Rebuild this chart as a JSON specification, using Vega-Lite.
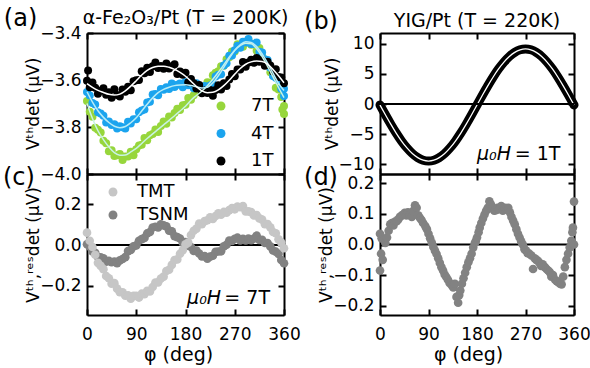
{
"$schema": "https://vega.github.io/schema/vega-lite/v6.json",
"background": "white",
"padding": {"left": 2, "top": 7, "right": 5, "bottom": 2},
"config": {
  "font": "DejaVu Sans",
  "view": {"stroke": null},
  "axis": {"domainColor": "black", "domainWidth": 2, "tickColor": "black", "tickWidth": 2, "tickSize": -6, "labelFontSize": 17, "labelColor": "black", "titleFontSize": 17, "titleColor": "black", "titleFontWeight": "normal", "grid": false, "labelFlush": false, "labelOverlap": false},
  "axisX": {"labelPadding": 17, "titlePadding": 3},
  "axisY": {"labelPadding": 12, "titlePadding": -3},
  "legend": {"labelFontSize": 18, "labelColor": "black", "symbolType": "circle", "symbolSize": 80, "symbolStrokeWidth": 0},
  "title": {"fontSize": 19, "fontWeight": "normal", "color": "black", "anchor": "middle", "offset": 7, "frame": "group"},
  "text": {"color": "black"}
},
"datasets": {
 "a": [
  {"phi":0,"V":-3.689,"B":"7T"},{"phi":5,"V":-3.735,"B":"7T"},{"phi":10,"V":-3.756,"B":"7T"},{"phi":15,"V":-3.803,"B":"7T"},{"phi":20,"V":-3.812,"B":"7T"},{"phi":25,"V":-3.823,"B":"7T"},{"phi":30,"V":-3.859,"B":"7T"},{"phi":35,"V":-3.869,"B":"7T"},{"phi":40,"V":-3.903,"B":"7T"},{"phi":45,"V":-3.899,"B":"7T"},{"phi":50,"V":-3.923,"B":"7T"},{"phi":55,"V":-3.920,"B":"7T"},{"phi":60,"V":-3.915,"B":"7T"},{"phi":65,"V":-3.940,"B":"7T"},{"phi":70,"V":-3.926,"B":"7T"},{"phi":75,"V":-3.925,"B":"7T"},{"phi":80,"V":-3.905,"B":"7T"},{"phi":85,"V":-3.920,"B":"7T"},{"phi":90,"V":-3.895,"B":"7T"},{"phi":95,"V":-3.879,"B":"7T"},{"phi":100,"V":-3.876,"B":"7T"},{"phi":105,"V":-3.847,"B":"7T"},{"phi":110,"V":-3.856,"B":"7T"},{"phi":115,"V":-3.835,"B":"7T"},{"phi":120,"V":-3.830,"B":"7T"},{"phi":125,"V":-3.811,"B":"7T"},{"phi":130,"V":-3.821,"B":"7T"},{"phi":135,"V":-3.796,"B":"7T"},{"phi":140,"V":-3.777,"B":"7T"},{"phi":145,"V":-3.786,"B":"7T"},{"phi":150,"V":-3.755,"B":"7T"},{"phi":155,"V":-3.760,"B":"7T"},{"phi":160,"V":-3.740,"B":"7T"},{"phi":165,"V":-3.722,"B":"7T"},{"phi":170,"V":-3.728,"B":"7T"},{"phi":175,"V":-3.707,"B":"7T"},{"phi":180,"V":-3.705,"B":"7T"},{"phi":185,"V":-3.677,"B":"7T"},{"phi":190,"V":-3.684,"B":"7T"},{"phi":195,"V":-3.665,"B":"7T"},{"phi":200,"V":-3.650,"B":"7T"},{"phi":205,"V":-3.651,"B":"7T"},{"phi":210,"V":-3.628,"B":"7T"},{"phi":215,"V":-3.628,"B":"7T"},{"phi":220,"V":-3.610,"B":"7T"},{"phi":225,"V":-3.612,"B":"7T"},{"phi":230,"V":-3.580,"B":"7T"},{"phi":235,"V":-3.569,"B":"7T"},{"phi":240,"V":-3.563,"B":"7T"},{"phi":245,"V":-3.541,"B":"7T"},{"phi":250,"V":-3.539,"B":"7T"},{"phi":255,"V":-3.512,"B":"7T"},{"phi":260,"V":-3.503,"B":"7T"},{"phi":265,"V":-3.479,"B":"7T"},{"phi":270,"V":-3.479,"B":"7T"},{"phi":275,"V":-3.448,"B":"7T"},{"phi":280,"V":-3.450,"B":"7T"},{"phi":285,"V":-3.459,"B":"7T"},{"phi":290,"V":-3.442,"B":"7T"},{"phi":295,"V":-3.430,"B":"7T"},{"phi":300,"V":-3.450,"B":"7T"},{"phi":305,"V":-3.448,"B":"7T"},{"phi":310,"V":-3.475,"B":"7T"},{"phi":315,"V":-3.464,"B":"7T"},{"phi":320,"V":-3.500,"B":"7T"},{"phi":325,"V":-3.527,"B":"7T"},{"phi":330,"V":-3.532,"B":"7T"},{"phi":335,"V":-3.567,"B":"7T"},{"phi":340,"V":-3.582,"B":"7T"},{"phi":345,"V":-3.633,"B":"7T"},{"phi":350,"V":-3.640,"B":"7T"},{"phi":355,"V":-3.672,"B":"7T"},{"phi":357,"V":-3.725,"B":"7T"},{"phi":360,"V":-3.711,"B":"7T"},{"phi":360,"V":-3.745,"B":"7T"},
  {"phi":0,"V":-3.651,"B":"4T"},{"phi":5,"V":-3.666,"B":"4T"},{"phi":10,"V":-3.698,"B":"4T"},{"phi":15,"V":-3.704,"B":"4T"},{"phi":20,"V":-3.737,"B":"4T"},{"phi":25,"V":-3.743,"B":"4T"},{"phi":30,"V":-3.752,"B":"4T"},{"phi":35,"V":-3.781,"B":"4T"},{"phi":40,"V":-3.777,"B":"4T"},{"phi":45,"V":-3.792,"B":"4T"},{"phi":50,"V":-3.788,"B":"4T"},{"phi":55,"V":-3.806,"B":"4T"},{"phi":60,"V":-3.797,"B":"4T"},{"phi":65,"V":-3.801,"B":"4T"},{"phi":70,"V":-3.806,"B":"4T"},{"phi":75,"V":-3.778,"B":"4T"},{"phi":80,"V":-3.785,"B":"4T"},{"phi":85,"V":-3.767,"B":"4T"},{"phi":90,"V":-3.767,"B":"4T"},{"phi":95,"V":-3.737,"B":"4T"},{"phi":100,"V":-3.730,"B":"4T"},{"phi":105,"V":-3.725,"B":"4T"},{"phi":110,"V":-3.696,"B":"4T"},{"phi":115,"V":-3.693,"B":"4T"},{"phi":120,"V":-3.662,"B":"4T"},{"phi":125,"V":-3.660,"B":"4T"},{"phi":130,"V":-3.665,"B":"4T"},{"phi":135,"V":-3.638,"B":"4T"},{"phi":140,"V":-3.641,"B":"4T"},{"phi":145,"V":-3.631,"B":"4T"},{"phi":150,"V":-3.638,"B":"4T"},{"phi":155,"V":-3.615,"B":"4T"},{"phi":160,"V":-3.630,"B":"4T"},{"phi":165,"V":-3.620,"B":"4T"},{"phi":170,"V":-3.615,"B":"4T"},{"phi":175,"V":-3.631,"B":"4T"},{"phi":180,"V":-3.609,"B":"4T"},{"phi":185,"V":-3.622,"B":"4T"},{"phi":190,"V":-3.620,"B":"4T"},{"phi":195,"V":-3.635,"B":"4T"},{"phi":200,"V":-3.614,"B":"4T"},{"phi":205,"V":-3.626,"B":"4T"},{"phi":210,"V":-3.638,"B":"4T"},{"phi":215,"V":-3.625,"B":"4T"},{"phi":220,"V":-3.639,"B":"4T"},{"phi":225,"V":-3.623,"B":"4T"},{"phi":230,"V":-3.617,"B":"4T"},{"phi":235,"V":-3.585,"B":"4T"},{"phi":240,"V":-3.578,"B":"4T"},{"phi":245,"V":-3.575,"B":"4T"},{"phi":250,"V":-3.538,"B":"4T"},{"phi":255,"V":-3.529,"B":"4T"},{"phi":260,"V":-3.497,"B":"4T"},{"phi":265,"V":-3.496,"B":"4T"},{"phi":270,"V":-3.473,"B":"4T"},{"phi":275,"V":-3.454,"B":"4T"},{"phi":280,"V":-3.463,"B":"4T"},{"phi":285,"V":-3.437,"B":"4T"},{"phi":290,"V":-3.440,"B":"4T"},{"phi":295,"V":-3.426,"B":"4T"},{"phi":300,"V":-3.447,"B":"4T"},{"phi":305,"V":-3.447,"B":"4T"},{"phi":310,"V":-3.440,"B":"4T"},{"phi":315,"V":-3.480,"B":"4T"},{"phi":320,"V":-3.483,"B":"4T"},{"phi":325,"V":-3.512,"B":"4T"},{"phi":330,"V":-3.515,"B":"4T"},{"phi":335,"V":-3.548,"B":"4T"},{"phi":340,"V":-3.583,"B":"4T"},{"phi":345,"V":-3.590,"B":"4T"},{"phi":350,"V":-3.600,"B":"4T"},{"phi":355,"V":-3.637,"B":"4T"},{"phi":360,"V":-3.637,"B":"4T"},{"phi":360,"V":-3.668,"B":"4T"},
  {"phi":0,"V":-3.603,"B":"1T"},{"phi":2,"V":-3.560,"B":"1T"},{"phi":5,"V":-3.631,"B":"1T"},{"phi":10,"V":-3.611,"B":"1T"},{"phi":15,"V":-3.633,"B":"1T"},{"phi":20,"V":-3.659,"B":"1T"},{"phi":25,"V":-3.646,"B":"1T"},{"phi":30,"V":-3.635,"B":"1T"},{"phi":35,"V":-3.663,"B":"1T"},{"phi":40,"V":-3.652,"B":"1T"},{"phi":45,"V":-3.675,"B":"1T"},{"phi":50,"V":-3.639,"B":"1T"},{"phi":55,"V":-3.664,"B":"1T"},{"phi":60,"V":-3.670,"B":"1T"},{"phi":65,"V":-3.640,"B":"1T"},{"phi":70,"V":-3.650,"B":"1T"},{"phi":75,"V":-3.629,"B":"1T"},{"phi":80,"V":-3.644,"B":"1T"},{"phi":85,"V":-3.605,"B":"1T"},{"phi":90,"V":-3.601,"B":"1T"},{"phi":95,"V":-3.600,"B":"1T"},{"phi":100,"V":-3.563,"B":"1T"},{"phi":105,"V":-3.571,"B":"1T"},{"phi":110,"V":-3.548,"B":"1T"},{"phi":115,"V":-3.566,"B":"1T"},{"phi":120,"V":-3.541,"B":"1T"},{"phi":125,"V":-3.525,"B":"1T"},{"phi":130,"V":-3.549,"B":"1T"},{"phi":135,"V":-3.540,"B":"1T"},{"phi":140,"V":-3.552,"B":"1T"},{"phi":145,"V":-3.530,"B":"1T"},{"phi":150,"V":-3.551,"B":"1T"},{"phi":155,"V":-3.542,"B":"1T"},{"phi":160,"V":-3.533,"B":"1T"},{"phi":165,"V":-3.574,"B":"1T"},{"phi":170,"V":-3.564,"B":"1T"},{"phi":175,"V":-3.578,"B":"1T"},{"phi":180,"V":-3.569,"B":"1T"},{"phi":185,"V":-3.610,"B":"1T"},{"phi":190,"V":-3.596,"B":"1T"},{"phi":195,"V":-3.614,"B":"1T"},{"phi":200,"V":-3.636,"B":"1T"},{"phi":205,"V":-3.621,"B":"1T"},{"phi":210,"V":-3.656,"B":"1T"},{"phi":215,"V":-3.645,"B":"1T"},{"phi":220,"V":-3.655,"B":"1T"},{"phi":225,"V":-3.643,"B":"1T"},{"phi":230,"V":-3.667,"B":"1T"},{"phi":235,"V":-3.643,"B":"1T"},{"phi":240,"V":-3.622,"B":"1T"},{"phi":245,"V":-3.640,"B":"1T"},{"phi":250,"V":-3.614,"B":"1T"},{"phi":255,"V":-3.625,"B":"1T"},{"phi":260,"V":-3.598,"B":"1T"},{"phi":265,"V":-3.574,"B":"1T"},{"phi":270,"V":-3.584,"B":"1T"},{"phi":275,"V":-3.555,"B":"1T"},{"phi":280,"V":-3.555,"B":"1T"},{"phi":285,"V":-3.523,"B":"1T"},{"phi":290,"V":-3.544,"B":"1T"},{"phi":295,"V":-3.525,"B":"1T"},{"phi":300,"V":-3.514,"B":"1T"},{"phi":305,"V":-3.527,"B":"1T"},{"phi":310,"V":-3.506,"B":"1T"},{"phi":315,"V":-3.522,"B":"1T"},{"phi":320,"V":-3.515,"B":"1T"},{"phi":325,"V":-3.539,"B":"1T"},{"phi":330,"V":-3.522,"B":"1T"},{"phi":335,"V":-3.538,"B":"1T"},{"phi":340,"V":-3.564,"B":"1T"},{"phi":345,"V":-3.554,"B":"1T"},{"phi":350,"V":-3.587,"B":"1T"},{"phi":355,"V":-3.589,"B":"1T"},{"phi":360,"V":-3.614,"B":"1T"}
 ],
 "afit": [
  {"phi":0,"V":-3.700,"B":"7T"},{"phi":10,"V":-3.764,"B":"7T"},{"phi":20,"V":-3.816,"B":"7T"},{"phi":30,"V":-3.854,"B":"7T"},{"phi":40,"V":-3.885,"B":"7T"},{"phi":50,"V":-3.909,"B":"7T"},{"phi":60,"V":-3.920,"B":"7T"},{"phi":70,"V":-3.919,"B":"7T"},{"phi":80,"V":-3.906,"B":"7T"},{"phi":90,"V":-3.891,"B":"7T"},{"phi":100,"V":-3.870,"B":"7T"},{"phi":110,"V":-3.849,"B":"7T"},{"phi":120,"V":-3.829,"B":"7T"},{"phi":130,"V":-3.810,"B":"7T"},{"phi":140,"V":-3.791,"B":"7T"},{"phi":150,"V":-3.772,"B":"7T"},{"phi":160,"V":-3.752,"B":"7T"},{"phi":170,"V":-3.732,"B":"7T"},{"phi":180,"V":-3.712,"B":"7T"},{"phi":190,"V":-3.686,"B":"7T"},{"phi":200,"V":-3.666,"B":"7T"},{"phi":210,"V":-3.647,"B":"7T"},{"phi":220,"V":-3.624,"B":"7T"},{"phi":230,"V":-3.597,"B":"7T"},{"phi":240,"V":-3.567,"B":"7T"},{"phi":250,"V":-3.535,"B":"7T"},{"phi":260,"V":-3.502,"B":"7T"},{"phi":270,"V":-3.473,"B":"7T"},{"phi":280,"V":-3.454,"B":"7T"},{"phi":290,"V":-3.444,"B":"7T"},{"phi":300,"V":-3.446,"B":"7T"},{"phi":310,"V":-3.467,"B":"7T"},{"phi":320,"V":-3.500,"B":"7T"},{"phi":330,"V":-3.542,"B":"7T"},{"phi":340,"V":-3.587,"B":"7T"},{"phi":350,"V":-3.632,"B":"7T"},{"phi":360,"V":-3.675,"B":"7T"},
  {"phi":0,"V":-3.650,"B":"4T"},{"phi":10,"V":-3.694,"B":"4T"},{"phi":20,"V":-3.731,"B":"4T"},{"phi":30,"V":-3.759,"B":"4T"},{"phi":40,"V":-3.781,"B":"4T"},{"phi":50,"V":-3.797,"B":"4T"},{"phi":60,"V":-3.803,"B":"4T"},{"phi":70,"V":-3.798,"B":"4T"},{"phi":80,"V":-3.782,"B":"4T"},{"phi":90,"V":-3.761,"B":"4T"},{"phi":100,"V":-3.732,"B":"4T"},{"phi":110,"V":-3.703,"B":"4T"},{"phi":120,"V":-3.676,"B":"4T"},{"phi":130,"V":-3.654,"B":"4T"},{"phi":140,"V":-3.640,"B":"4T"},{"phi":150,"V":-3.631,"B":"4T"},{"phi":160,"V":-3.624,"B":"4T"},{"phi":170,"V":-3.621,"B":"4T"},{"phi":180,"V":-3.620,"B":"4T"},{"phi":190,"V":-3.623,"B":"4T"},{"phi":200,"V":-3.629,"B":"4T"},{"phi":210,"V":-3.634,"B":"4T"},{"phi":220,"V":-3.631,"B":"4T"},{"phi":230,"V":-3.612,"B":"4T"},{"phi":240,"V":-3.582,"B":"4T"},{"phi":250,"V":-3.546,"B":"4T"},{"phi":260,"V":-3.508,"B":"4T"},{"phi":270,"V":-3.474,"B":"4T"},{"phi":280,"V":-3.450,"B":"4T"},{"phi":290,"V":-3.437,"B":"4T"},{"phi":300,"V":-3.440,"B":"4T"},{"phi":310,"V":-3.458,"B":"4T"},{"phi":320,"V":-3.489,"B":"4T"},{"phi":330,"V":-3.528,"B":"4T"},{"phi":340,"V":-3.572,"B":"4T"},{"phi":350,"V":-3.614,"B":"4T"},{"phi":360,"V":-3.645,"B":"4T"},
  {"phi":0,"V":-3.615,"B":"1T"},{"phi":10,"V":-3.631,"B":"1T"},{"phi":20,"V":-3.644,"B":"1T"},{"phi":30,"V":-3.653,"B":"1T"},{"phi":40,"V":-3.661,"B":"1T"},{"phi":50,"V":-3.664,"B":"1T"},{"phi":60,"V":-3.660,"B":"1T"},{"phi":70,"V":-3.646,"B":"1T"},{"phi":80,"V":-3.626,"B":"1T"},{"phi":90,"V":-3.603,"B":"1T"},{"phi":100,"V":-3.579,"B":"1T"},{"phi":110,"V":-3.559,"B":"1T"},{"phi":120,"V":-3.547,"B":"1T"},{"phi":130,"V":-3.542,"B":"1T"},{"phi":140,"V":-3.541,"B":"1T"},{"phi":150,"V":-3.546,"B":"1T"},{"phi":160,"V":-3.555,"B":"1T"},{"phi":170,"V":-3.568,"B":"1T"},{"phi":180,"V":-3.584,"B":"1T"},{"phi":190,"V":-3.605,"B":"1T"},{"phi":200,"V":-3.628,"B":"1T"},{"phi":210,"V":-3.646,"B":"1T"},{"phi":220,"V":-3.654,"B":"1T"},{"phi":230,"V":-3.652,"B":"1T"},{"phi":240,"V":-3.642,"B":"1T"},{"phi":250,"V":-3.624,"B":"1T"},{"phi":260,"V":-3.601,"B":"1T"},{"phi":270,"V":-3.575,"B":"1T"},{"phi":280,"V":-3.551,"B":"1T"},{"phi":290,"V":-3.533,"B":"1T"},{"phi":300,"V":-3.523,"B":"1T"},{"phi":310,"V":-3.519,"B":"1T"},{"phi":320,"V":-3.521,"B":"1T"},{"phi":330,"V":-3.532,"B":"1T"},{"phi":340,"V":-3.555,"B":"1T"},{"phi":350,"V":-3.582,"B":"1T"},{"phi":360,"V":-3.612,"B":"1T"}
 ],
 "b": [
  {"phi":0,"V":-0.15},{"phi":10,"V":-1.77},{"phi":20,"V":-3.33},{"phi":30,"V":-4.80},{"phi":40,"V":-6.13},{"phi":50,"V":-7.27},{"phi":60,"V":-8.20},{"phi":70,"V":-8.89},{"phi":80,"V":-9.31},{"phi":90,"V":-9.45},{"phi":100,"V":-9.31},{"phi":110,"V":-8.89},{"phi":120,"V":-8.20},{"phi":130,"V":-7.27},{"phi":140,"V":-6.13},{"phi":150,"V":-4.80},{"phi":160,"V":-3.33},{"phi":170,"V":-1.77},{"phi":180,"V":-0.15},{"phi":190,"V":1.47},{"phi":200,"V":3.03},{"phi":210,"V":4.50},{"phi":220,"V":5.83},{"phi":230,"V":6.97},{"phi":240,"V":7.90},{"phi":250,"V":8.59},{"phi":260,"V":9.01},{"phi":270,"V":9.15},{"phi":280,"V":9.01},{"phi":290,"V":8.59},{"phi":300,"V":7.90},{"phi":310,"V":6.97},{"phi":320,"V":5.83},{"phi":330,"V":4.50},{"phi":340,"V":3.03},{"phi":350,"V":1.47},{"phi":360,"V":-0.15}
 ],
 "c": [
  {"phi":0,"V":0.004,"S":"TSNM"},{"phi":5,"V":-0.008,"S":"TSNM"},{"phi":10,"V":-0.032,"S":"TSNM"},{"phi":15,"V":-0.038,"S":"TSNM"},{"phi":20,"V":-0.059,"S":"TSNM"},{"phi":25,"V":-0.061,"S":"TSNM"},{"phi":30,"V":-0.066,"S":"TSNM"},{"phi":35,"V":-0.082,"S":"TSNM"},{"phi":40,"V":-0.078,"S":"TSNM"},{"phi":45,"V":-0.085,"S":"TSNM"},{"phi":50,"V":-0.082,"S":"TSNM"},{"phi":55,"V":-0.089,"S":"TSNM"},{"phi":60,"V":-0.076,"S":"TSNM"},{"phi":65,"V":-0.069,"S":"TSNM"},{"phi":70,"V":-0.060,"S":"TSNM"},{"phi":75,"V":-0.030,"S":"TSNM"},{"phi":80,"V":-0.024,"S":"TSNM"},{"phi":85,"V":-0.007,"S":"TSNM"},{"phi":90,"V":-0.002,"S":"TSNM"},{"phi":95,"V":0.021,"S":"TSNM"},{"phi":100,"V":0.029,"S":"TSNM"},{"phi":105,"V":0.035,"S":"TSNM"},{"phi":110,"V":0.057,"S":"TSNM"},{"phi":115,"V":0.064,"S":"TSNM"},{"phi":120,"V":0.086,"S":"TSNM"},{"phi":125,"V":0.090,"S":"TSNM"},{"phi":130,"V":0.087,"S":"TSNM"},{"phi":135,"V":0.102,"S":"TSNM"},{"phi":140,"V":0.097,"S":"TSNM"},{"phi":145,"V":0.092,"S":"TSNM"},{"phi":150,"V":0.071,"S":"TSNM"},{"phi":155,"V":0.067,"S":"TSNM"},{"phi":160,"V":0.044,"S":"TSNM"},{"phi":165,"V":0.039,"S":"TSNM"},{"phi":170,"V":0.032,"S":"TSNM"},{"phi":175,"V":0.011,"S":"TSNM"},{"phi":180,"V":0.015,"S":"TSNM"},{"phi":185,"V":-0.003,"S":"TSNM"},{"phi":190,"V":-0.010,"S":"TSNM"},{"phi":195,"V":-0.029,"S":"TSNM"},{"phi":200,"V":-0.027,"S":"TSNM"},{"phi":205,"V":-0.042,"S":"TSNM"},{"phi":210,"V":-0.056,"S":"TSNM"},{"phi":215,"V":-0.055,"S":"TSNM"},{"phi":220,"V":-0.067,"S":"TSNM"},{"phi":225,"V":-0.057,"S":"TSNM"},{"phi":230,"V":-0.053,"S":"TSNM"},{"phi":235,"V":-0.034,"S":"TSNM"},{"phi":240,"V":-0.032,"S":"TSNM"},{"phi":245,"V":-0.031,"S":"TSNM"},{"phi":250,"V":-0.007,"S":"TSNM"},{"phi":255,"V":0.001,"S":"TSNM"},{"phi":260,"V":0.022,"S":"TSNM"},{"phi":265,"V":0.020,"S":"TSNM"},{"phi":270,"V":0.031,"S":"TSNM"},{"phi":275,"V":0.036,"S":"TSNM"},{"phi":280,"V":0.022,"S":"TSNM"},{"phi":285,"V":0.030,"S":"TSNM"},{"phi":290,"V":0.023,"S":"TSNM"},{"phi":295,"V":0.032,"S":"TSNM"},{"phi":300,"V":0.024,"S":"TSNM"},{"phi":305,"V":0.032,"S":"TSNM"},{"phi":310,"V":0.046,"S":"TSNM"},{"phi":315,"V":0.025,"S":"TSNM"},{"phi":320,"V":0.026,"S":"TSNM"},{"phi":325,"V":0.010,"S":"TSNM"},{"phi":330,"V":0.010,"S":"TSNM"},{"phi":335,"V":-0.007,"S":"TSNM"},{"phi":340,"V":-0.027,"S":"TSNM"},{"phi":345,"V":-0.033,"S":"TSNM"},{"phi":350,"V":-0.044,"S":"TSNM"},{"phi":355,"V":-0.074,"S":"TSNM"},{"phi":360,"V":-0.090,"S":"TSNM"},
  {"phi":0,"V":0.061,"S":"TMT"},{"phi":5,"V":0.021,"S":"TMT"},{"phi":10,"V":-0.010,"S":"TMT"},{"phi":15,"V":-0.048,"S":"TMT"},{"phi":20,"V":-0.088,"S":"TMT"},{"phi":25,"V":-0.103,"S":"TMT"},{"phi":30,"V":-0.119,"S":"TMT"},{"phi":35,"V":-0.153,"S":"TMT"},{"phi":40,"V":-0.164,"S":"TMT"},{"phi":45,"V":-0.191,"S":"TMT"},{"phi":50,"V":-0.188,"S":"TMT"},{"phi":55,"V":-0.215,"S":"TMT"},{"phi":60,"V":-0.233,"S":"TMT"},{"phi":65,"V":-0.233,"S":"TMT"},{"phi":70,"V":-0.250,"S":"TMT"},{"phi":75,"V":-0.248,"S":"TMT"},{"phi":80,"V":-0.265,"S":"TMT"},{"phi":85,"V":-0.250,"S":"TMT"},{"phi":90,"V":-0.251,"S":"TMT"},{"phi":95,"V":-0.259,"S":"TMT"},{"phi":100,"V":-0.240,"S":"TMT"},{"phi":105,"V":-0.242,"S":"TMT"},{"phi":110,"V":-0.226,"S":"TMT"},{"phi":115,"V":-0.229,"S":"TMT"},{"phi":120,"V":-0.207,"S":"TMT"},{"phi":125,"V":-0.185,"S":"TMT"},{"phi":130,"V":-0.184,"S":"TMT"},{"phi":135,"V":-0.165,"S":"TMT"},{"phi":140,"V":-0.156,"S":"TMT"},{"phi":145,"V":-0.128,"S":"TMT"},{"phi":150,"V":-0.122,"S":"TMT"},{"phi":155,"V":-0.098,"S":"TMT"},{"phi":160,"V":-0.074,"S":"TMT"},{"phi":165,"V":-0.071,"S":"TMT"},{"phi":170,"V":-0.043,"S":"TMT"},{"phi":175,"V":-0.026,"S":"TMT"},{"phi":180,"V":0.003,"S":"TMT"},{"phi":185,"V":0.012,"S":"TMT"},{"phi":190,"V":0.049,"S":"TMT"},{"phi":195,"V":0.070,"S":"TMT"},{"phi":200,"V":0.081,"S":"TMT"},{"phi":205,"V":0.106,"S":"TMT"},{"phi":210,"V":0.103,"S":"TMT"},{"phi":215,"V":0.118,"S":"TMT"},{"phi":220,"V":0.122,"S":"TMT"},{"phi":225,"V":0.136,"S":"TMT"},{"phi":230,"V":0.128,"S":"TMT"},{"phi":235,"V":0.143,"S":"TMT"},{"phi":240,"V":0.156,"S":"TMT"},{"phi":245,"V":0.149,"S":"TMT"},{"phi":250,"V":0.163,"S":"TMT"},{"phi":255,"V":0.159,"S":"TMT"},{"phi":260,"V":0.172,"S":"TMT"},{"phi":265,"V":0.182,"S":"TMT"},{"phi":270,"V":0.176,"S":"TMT"},{"phi":275,"V":0.189,"S":"TMT"},{"phi":280,"V":0.186,"S":"TMT"},{"phi":285,"V":0.192,"S":"TMT"},{"phi":290,"V":0.166,"S":"TMT"},{"phi":295,"V":0.166,"S":"TMT"},{"phi":300,"V":0.162,"S":"TMT"},{"phi":305,"V":0.146,"S":"TMT"},{"phi":310,"V":0.148,"S":"TMT"},{"phi":315,"V":0.131,"S":"TMT"},{"phi":320,"V":0.125,"S":"TMT"},{"phi":325,"V":0.103,"S":"TMT"},{"phi":330,"V":0.103,"S":"TMT"},{"phi":335,"V":0.087,"S":"TMT"},{"phi":340,"V":0.064,"S":"TMT"},{"phi":345,"V":0.058,"S":"TMT"},{"phi":350,"V":0.028,"S":"TMT"},{"phi":355,"V":0.012,"S":"TMT"},{"phi":360,"V":-0.016,"S":"TMT"}
 ],
 "d": [
  {"phi":0,"V":-0.085},{"phi":0,"V":0.035},{"phi":2,"V":-0.03},{"phi":3,"V":0.02},{"phi":5,"V":-0.05},{"phi":7,"V":0.017},{"phi":10,"V":0.005},{"phi":13,"V":0.023},{"phi":16,"V":0.045},{"phi":19,"V":0.066},{"phi":22,"V":0.07},{"phi":25,"V":0.062},{"phi":28,"V":0.075},{"phi":31,"V":0.076},{"phi":34,"V":0.082},{"phi":37,"V":0.09},{"phi":40,"V":0.094},{"phi":43,"V":0.098},{"phi":46,"V":0.103},{"phi":49,"V":0.095},{"phi":52,"V":0.105},{"phi":56,"V":0.098},{"phi":59,"V":0.09},{"phi":62,"V":0.11},{"phi":65,"V":0.128},{"phi":68,"V":0.12},{"phi":71,"V":0.095},{"phi":74,"V":0.087},{"phi":77,"V":0.08},{"phi":80,"V":0.07},{"phi":84,"V":0.06},{"phi":87,"V":0.05},{"phi":90,"V":0.035},{"phi":93,"V":0.02},{"phi":96,"V":0.006},{"phi":99,"V":-0.008},{"phi":102,"V":-0.02},{"phi":105,"V":-0.031},{"phi":108,"V":-0.045},{"phi":111,"V":-0.06},{"phi":114,"V":-0.074},{"phi":117,"V":-0.085},{"phi":120,"V":-0.098},{"phi":123,"V":-0.106},{"phi":126,"V":-0.115},{"phi":129,"V":-0.125},{"phi":133,"V":-0.133},{"phi":136,"V":-0.14},{"phi":139,"V":-0.128},{"phi":142,"V":-0.171},{"phi":145,"V":-0.19},{"phi":147,"V":-0.165},{"phi":149,"V":-0.15},{"phi":152,"V":-0.128},{"phi":155,"V":-0.11},{"phi":158,"V":-0.092},{"phi":161,"V":-0.074},{"phi":164,"V":-0.058},{"phi":167,"V":-0.045},{"phi":170,"V":-0.03},{"phi":173,"V":-0.01},{"phi":176,"V":0.005},{"phi":178,"V":0.012},{"phi":180,"V":0.023},{"phi":183,"V":0.04},{"phi":185,"V":0.055},{"phi":188,"V":0.07},{"phi":191,"V":0.085},{"phi":194,"V":0.098},{"phi":197,"V":0.11},{"phi":200,"V":0.12},{"phi":203,"V":0.141},{"phi":206,"V":0.13},{"phi":209,"V":0.118},{"phi":212,"V":0.11},{"phi":215,"V":0.112},{"phi":218,"V":0.12},{"phi":221,"V":0.115},{"phi":225,"V":0.125},{"phi":228,"V":0.11},{"phi":232,"V":0.12},{"phi":235,"V":0.118},{"phi":238,"V":0.12},{"phi":241,"V":0.105},{"phi":244,"V":0.09},{"phi":247,"V":0.078},{"phi":250,"V":0.066},{"phi":253,"V":0.05},{"phi":256,"V":0.035},{"phi":259,"V":0.023},{"phi":262,"V":0.01},{"phi":265,"V":0.0},{"phi":268,"V":-0.015},{"phi":271,"V":-0.02},{"phi":274,"V":-0.028},{"phi":277,"V":-0.03},{"phi":281,"V":-0.036},{"phi":284,"V":-0.08},{"phi":287,"V":-0.045},{"phi":290,"V":-0.05},{"phi":293,"V":-0.053},{"phi":296,"V":-0.06},{"phi":299,"V":-0.07},{"phi":302,"V":-0.065},{"phi":306,"V":-0.074},{"phi":309,"V":-0.08},{"phi":312,"V":-0.085},{"phi":315,"V":-0.09},{"phi":318,"V":-0.105},{"phi":321,"V":-0.1},{"phi":325,"V":-0.115},{"phi":328,"V":-0.12},{"phi":331,"V":-0.123},{"phi":334,"V":-0.128},{"phi":337,"V":-0.13},{"phi":340,"V":-0.105},{"phi":343,"V":-0.074},{"phi":346,"V":-0.05},{"phi":349,"V":-0.03},{"phi":352,"V":-0.01},{"phi":355,"V":0.012},{"phi":357,"V":0.04},{"phi":358,"V":0.055},{"phi":360,"V":0.14},{"phi":360,"V":0.0}
 ],
 "one": [{}]
},
"columns": 2,
"spacing": {"row": 0, "column": 96},
"bounds": "flush",
"resolve": {"scale": {"color": "independent", "stroke": "independent"}},
"concat": [
 {
  "width": 197, "height": 141,
  "title": {"text": "α-Fe₂O₃/Pt (T = 200K)", "fontSize": 19, "frame": "group", "offset": 7, "dy": 28},
  "layer": [
   {"data": {"name": "a"}, "mark": {"type": "point", "filled": true, "size": 64, "opacity": 1},
    "encoding": {
     "x": {"field": "phi", "type": "quantitative", "scale": {"domain": [0, 360], "nice": false, "zero": false}, "axis": {"orient": "bottom", "values": [0, 90, 180, 270, 360], "labels": false, "title": null}},
     "y": {"field": "V", "type": "quantitative", "scale": {"domain": [-4.0, -3.4], "nice": false, "zero": false}, "axis": {"orient": "left", "values": [-4.0, -3.8, -3.6, -3.4], "format": ".1f", "title": "Vᵗʰdet (μV)"}},
     "color": {"field": "B", "type": "nominal", "scale": {"domain": ["7T", "4T", "1T"], "range": ["#97d63c", "#1ba4ee", "#000000"]}, "legend": {"title": null, "orient": "none", "legendX": 125, "legendY": 64, "labelOffset": 21, "rowPadding": 9.5}}
    }},
   {"data": {"name": "afit"}, "mark": {"type": "line", "interpolate": "monotone", "strokeWidth": 1.5},
    "encoding": {
     "x": {"field": "phi", "type": "quantitative", "scale": {"domain": [0, 360], "nice": false, "zero": false}, "axis": {"orient": "top", "values": [0, 90, 180, 270, 360], "labels": false, "title": null}},
     "y": {"field": "V", "type": "quantitative", "scale": {"domain": [-4.0, -3.4], "nice": false, "zero": false}, "axis": {"orient": "right", "values": [-4.0, -3.8, -3.6, -3.4], "labels": false, "title": null}},
     "stroke": {"field": "B", "type": "nominal", "scale": {"domain": ["7T", "4T", "1T"], "range": ["#c8f3e4", "#b8ecf6", "#ffffff"]}, "legend": null}
    }},
   {"data": {"name": "one"}, "mark": {"type": "text", "fontSize": 24, "align": "left", "baseline": "alphabetic", "text": "(a)"},
    "encoding": {
     "x": {"datum": -152, "type": "quantitative", "scale": {"domain": [0, 360], "nice": false, "zero": false}, "axis": null},
     "y": {"datum": -3.372, "type": "quantitative", "scale": {"domain": [-4.0, -3.4], "nice": false, "zero": false}, "axis": null}
    }}
  ],
  "resolve": {"axis": {"x": "independent", "y": "independent"}}
 },
 {
  "width": 194, "height": 141,
  "title": {"text": "YIG/Pt (T = 220K)", "fontSize": 19, "frame": "group", "offset": 7, "dy": 28},
  "layer": [
   {"data": {"name": "b"}, "mark": {"type": "line", "interpolate": "monotone", "strokeWidth": 9, "color": "black", "strokeCap": "round"},
    "encoding": {
     "x": {"field": "phi", "type": "quantitative", "scale": {"domain": [0, 360], "nice": false, "zero": false}, "axis": {"orient": "bottom", "values": [0, 90, 180, 270, 360], "labels": false, "title": null}},
     "y": {"field": "V", "type": "quantitative", "scale": {"domain": [-11.6, 11.8], "nice": false, "zero": false}, "axis": {"orient": "left", "values": [-10, -5, 0, 5, 10], "title": "Vᵗʰdet (μV)"}}
    }},
   {"data": {"name": "b"}, "mark": {"type": "line", "interpolate": "monotone", "strokeWidth": 1.3, "color": "white"},
    "encoding": {
     "x": {"field": "phi", "type": "quantitative", "scale": {"domain": [0, 360], "nice": false, "zero": false}, "axis": {"orient": "top", "values": [0, 90, 180, 270, 360], "labels": false, "title": null}},
     "y": {"field": "V", "type": "quantitative", "scale": {"domain": [-11.6, 11.8], "nice": false, "zero": false}, "axis": {"orient": "right", "values": [-10, -5, 0, 5, 10], "labels": false, "title": null}}
    }},
   {"data": {"name": "one"}, "mark": {"type": "rule", "color": "black", "strokeWidth": 2},
    "encoding": {
     "x": {"datum": 0, "type": "quantitative", "scale": {"domain": [0, 360], "nice": false, "zero": false}, "axis": null},
     "x2": {"datum": 360},
     "y": {"datum": 0, "type": "quantitative", "scale": {"domain": [-11.6, 11.8], "nice": false, "zero": false}, "axis": null}
    }},
   {"data": {"name": "one"}, "mark": {"type": "text", "fontSize": 19, "align": "right", "baseline": "alphabetic", "fontStyle": "italic", "text": "μ₀H"},
    "encoding": {
     "x": {"datum": 243, "type": "quantitative", "scale": {"domain": [0, 360], "nice": false, "zero": false}, "axis": null},
     "y": {"datum": -9.29, "type": "quantitative", "scale": {"domain": [-11.6, 11.8], "nice": false, "zero": false}, "axis": null}
    }},
   {"data": {"name": "one"}, "mark": {"type": "text", "fontSize": 19, "align": "left", "baseline": "alphabetic", "text": "= 1T"},
    "encoding": {
     "x": {"datum": 250, "type": "quantitative", "scale": {"domain": [0, 360], "nice": false, "zero": false}, "axis": null},
     "y": {"datum": -9.29, "type": "quantitative", "scale": {"domain": [-11.6, 11.8], "nice": false, "zero": false}, "axis": null}
    }},
   {"data": {"name": "one"}, "mark": {"type": "text", "fontSize": 24, "align": "left", "baseline": "alphabetic", "text": "(b)"},
    "encoding": {
     "x": {"datum": -141, "type": "quantitative", "scale": {"domain": [0, 360], "nice": false, "zero": false}, "axis": null},
     "y": {"datum": 12.49, "type": "quantitative", "scale": {"domain": [-11.6, 11.8], "nice": false, "zero": false}, "axis": null}
    }}
  ],
  "resolve": {"axis": {"x": "independent", "y": "independent"}}
 },
 {
  "width": 197, "height": 141,
  "layer": [
   {"data": {"name": "one"}, "mark": {"type": "rule", "color": "black", "strokeWidth": 2},
    "encoding": {
     "x": {"datum": 0, "type": "quantitative", "scale": {"domain": [0, 360], "nice": false, "zero": false}, "axis": {"orient": "top", "values": [0, 90, 180, 270, 360], "labels": false, "title": null}},
     "x2": {"datum": 360},
     "y": {"datum": 0, "type": "quantitative", "scale": {"domain": [-0.345, 0.35], "nice": false, "zero": false}, "axis": {"orient": "right", "values": [-0.2, 0, 0.2], "labels": false, "title": null}}
    }},
   {"data": {"name": "c"}, "mark": {"type": "point", "filled": true, "size": 75, "opacity": 1},
    "encoding": {
     "x": {"field": "phi", "type": "quantitative", "scale": {"domain": [0, 360], "nice": false, "zero": false}, "axis": {"orient": "bottom", "values": [0, 90, 180, 270, 360], "title": "φ (deg)", "titleFontSize": 19, "titleX": 91}},
     "y": {"field": "V", "type": "quantitative", "scale": {"domain": [-0.345, 0.35], "nice": false, "zero": false}, "axis": {"orient": "left", "values": [-0.2, 0, 0.2], "format": ".1f", "title": "Vᵗʰ,ʳᵉˢdet (μV)"}},
     "color": {"field": "S", "type": "nominal", "scale": {"domain": ["TMT", "TSNM"], "range": ["#c6c6c6", "#828282"]}, "legend": {"title": null, "orient": "none", "legendX": 17, "legendY": 9, "labelOffset": 15, "rowPadding": 5}}
    }},
   {"data": {"name": "one"}, "mark": {"type": "text", "fontSize": 19, "align": "right", "baseline": "alphabetic", "fontStyle": "italic", "text": "μ₀H"},
    "encoding": {
     "x": {"datum": 245, "type": "quantitative", "scale": {"domain": [0, 360], "nice": false, "zero": false}, "axis": null},
     "y": {"datum": -0.291, "type": "quantitative", "scale": {"domain": [-0.345, 0.35], "nice": false, "zero": false}, "axis": null}
    }},
   {"data": {"name": "one"}, "mark": {"type": "text", "fontSize": 19, "align": "left", "baseline": "alphabetic", "text": "= 7T"},
    "encoding": {
     "x": {"datum": 251, "type": "quantitative", "scale": {"domain": [0, 360], "nice": false, "zero": false}, "axis": null},
     "y": {"datum": -0.291, "type": "quantitative", "scale": {"domain": [-0.345, 0.35], "nice": false, "zero": false}, "axis": null}
    }},
   {"data": {"name": "one"}, "mark": {"type": "text", "fontSize": 24, "align": "left", "baseline": "alphabetic", "text": "(c)"},
    "encoding": {
     "x": {"datum": -153.6, "type": "quantitative", "scale": {"domain": [0, 360], "nice": false, "zero": false}, "axis": null},
     "y": {"datum": 0.294, "type": "quantitative", "scale": {"domain": [-0.345, 0.35], "nice": false, "zero": false}, "axis": null}
    }}
  ],
  "resolve": {"axis": {"x": "independent", "y": "independent"}}
 },
 {
  "width": 194, "height": 141,
  "layer": [
   {"data": {"name": "one"}, "mark": {"type": "rule", "color": "black", "strokeWidth": 2},
    "encoding": {
     "x": {"datum": 0, "type": "quantitative", "scale": {"domain": [0, 360], "nice": false, "zero": false}, "axis": {"orient": "top", "values": [0, 90, 180, 270, 360], "labels": false, "title": null}},
     "x2": {"datum": 360},
     "y": {"datum": 0, "type": "quantitative", "scale": {"domain": [-0.23, 0.23], "nice": false, "zero": false}, "axis": {"orient": "right", "values": [-0.2, -0.1, 0, 0.1, 0.2], "labels": false, "title": null}}
    }},
   {"data": {"name": "d"}, "mark": {"type": "point", "filled": true, "size": 75, "opacity": 1, "color": "#828282"},
    "encoding": {
     "x": {"field": "phi", "type": "quantitative", "scale": {"domain": [0, 360], "nice": false, "zero": false}, "axis": {"orient": "bottom", "values": [0, 90, 180, 270, 360], "title": "φ (deg)", "titleFontSize": 19, "titleX": 88}},
     "y": {"field": "V", "type": "quantitative", "scale": {"domain": [-0.23, 0.23], "nice": false, "zero": false}, "axis": {"orient": "left", "values": [-0.2, -0.1, 0, 0.1, 0.2], "format": ".1f", "title": "Vᵗʰ,ʳᵉˢdet (μV)"}}
    }},
   {"data": {"name": "one"}, "mark": {"type": "text", "fontSize": 24, "align": "left", "baseline": "alphabetic", "text": "(d)"},
    "encoding": {
     "x": {"datum": -141, "type": "quantitative", "scale": {"domain": [0, 360], "nice": false, "zero": false}, "axis": null},
     "y": {"datum": 0.195, "type": "quantitative", "scale": {"domain": [-0.23, 0.23], "nice": false, "zero": false}, "axis": null}
    }}
  ],
  "resolve": {"axis": {"x": "independent", "y": "independent"}}
 }
]
}
